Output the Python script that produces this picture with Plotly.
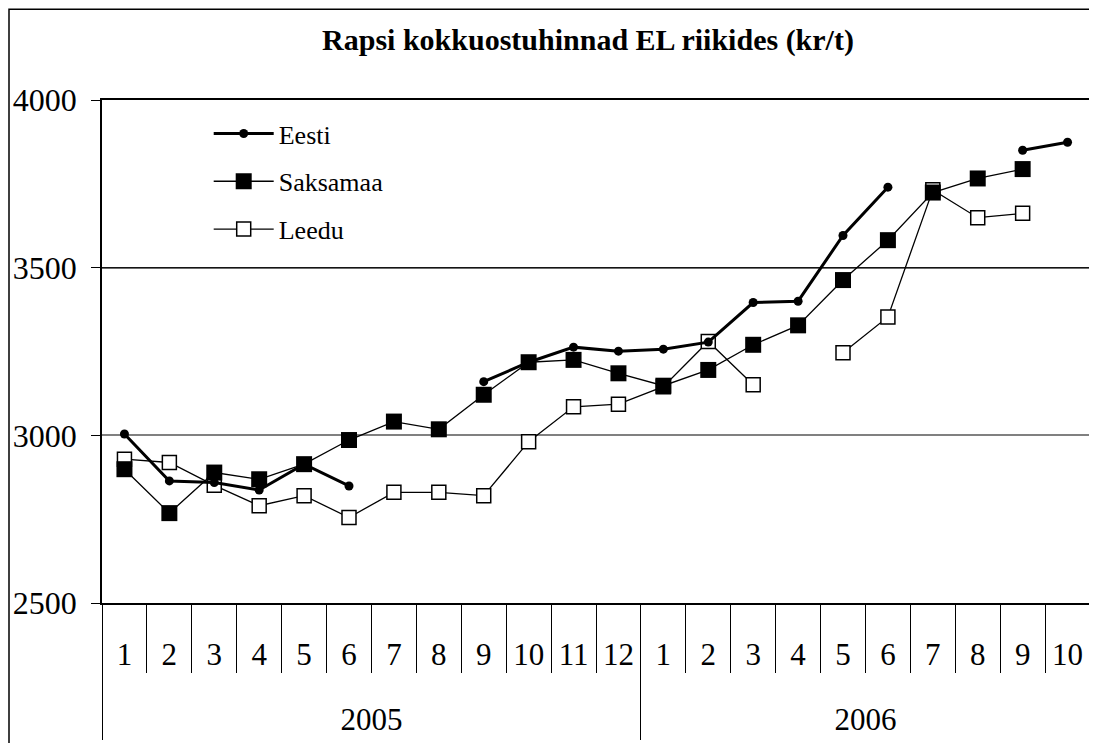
import plotly.graph_objects as go

# data
years = ["2005", "2006"]
months_2005 = ["1", "2", "3", "4", "5", "6", "7", "8", "9", "10", "11", "12"]
months_2006 = ["1", "2", "3", "4", "5", "6", "7", "8", "9", "10"]
months = months_2005 + months_2006

eesti = [3004, 2864, 2859, 2837, 2914, 2849, None, None, 3160, 3218, 3263, 3251,
         3257, 3278, 3396, 3400, 3596, 3740, None, None, 3850, 3874]
saksamaa = [2899, 2768, 2889, 2869, 2914, 2986, 3041, 3018, 3121, 3218, 3225, 3185,
            3148, 3195, 3270, 3328, 3463, 3582, 3724, 3766, 3794, None]
leedu = [2929, 2919, 2851, 2790, 2820, 2755, 2830, 2830, 2820, 2981, 3085, 3093,
         3145, 3280, 3151, None, 3246, 3353, 3732, 3649, 3662, None]

x = list(range(len(months)))
font = "Liberation Serif"

# year group boundaries / centres from the month lists
n05 = len(months_2005)
n06 = len(months_2006)
year_mid = [(n05 - 1) / 2, n05 + (n06 - 1) / 2]
year_div = [-0.5, n05 - 0.5, n05 + n06 - 0.5]
month_div = [i - 0.5 for i in range(len(months) + 1)]

fig = go.Figure()

fig.add_trace(go.Scatter(
    x=x, y=leedu, name="Leedu", mode="lines+markers",
    line=dict(color="black", width=1.3),
    marker=dict(symbol="square", size=14, color="white", line=dict(color="black", width=1.5)),
    legendgroup="c", legendrank=3,
))
fig.add_trace(go.Scatter(
    x=x, y=saksamaa, name="Saksamaa", mode="lines+markers",
    line=dict(color="black", width=1.3),
    marker=dict(symbol="square", size=16, color="black"),
    legendgroup="b", legendrank=2,
))
fig.add_trace(go.Scatter(
    x=x, y=eesti, name="Eesti", mode="lines+markers",
    line=dict(color="black", width=3),
    marker=dict(symbol="circle", size=9, color="black"),
    legendgroup="a", legendrank=1,
))
# empty trace so the year axis gets drawn
fig.add_trace(go.Scatter(
    x=year_mid, y=[None, None], xaxis="x2", yaxis="y",
    showlegend=False, hoverinfo="skip", mode="lines",
))

fig.update_layout(
    width=1089, height=735,
    margin=dict(l=94, r=7, t=92, b=140),
    paper_bgcolor="white", plot_bgcolor="white",
    font=dict(family=font, color="black"),
    title=dict(text="<b>Rapsi kokkuostuhinnad EL riikides (kr/t)</b>",
               x=580 / 1089, xanchor="center", y=1 - 31 / 735, yanchor="middle",
               font=dict(size=30, family=font, color="black")),
    legend=dict(x=0.108, y=0.98, xanchor="left", yanchor="top",
                font=dict(size=26, family=font), bgcolor="rgba(0,0,0,0)",
                traceorder="grouped", tracegroupgap=11, itemwidth=60),
    xaxis=dict(
        range=[-0.5, len(months) - 0.5], tickmode="array", tickvals=x, ticktext=months,
        ticks="", showgrid=False, zeroline=False,
        showline=True, linecolor="black", linewidth=2, mirror=True,
        tickfont=dict(size=31, family=font), ticklabelstandoff=23, automargin=False,
        minor=dict(tickmode="array", tickvals=month_div, ticks="outside",
                   ticklen=68, tickcolor="black", tickwidth=1, showgrid=False),
    ),
    xaxis2=dict(
        overlaying="x", anchor="y", side="bottom",
        range=[-0.5, len(months) - 0.5], tickmode="array", tickvals=year_mid, ticktext=years,
        ticks="", showgrid=False, zeroline=False, showline=False,
        tickfont=dict(size=31, family=font), ticklabelstandoff=95, automargin=False,
        minor=dict(tickmode="array", tickvals=year_div, ticks="outside",
                   ticklen=136, tickcolor="black", tickwidth=1, showgrid=False),
    ),
    yaxis=dict(
        range=[2500, 4000], tickmode="array", tickvals=[2500, 3000, 3500, 4000],
        ticks="outside", ticklen=9, tickcolor="black",
        showgrid=True, gridcolor="#808080", gridwidth=1.5, zeroline=False,
        showline=True, linecolor="black", linewidth=1.5, mirror=True,
        tickfont=dict(size=32, family=font), ticklabelstandoff=8, automargin=False,
    ),
    showlegend=True,
)

# darker gridline at 3500 and the outer chart frame
fig.add_hline(y=3500, line=dict(color="black", width=1))
fig.add_shape(type="rect", xref="paper", yref="paper",
              x0=(1 - 94) / 988, x1=1.2, y0=-0.5, y1=(594.7 - 1) / 503,
              line=dict(color="black", width=1.5), layer="below")

fig.write_html("out.html")
